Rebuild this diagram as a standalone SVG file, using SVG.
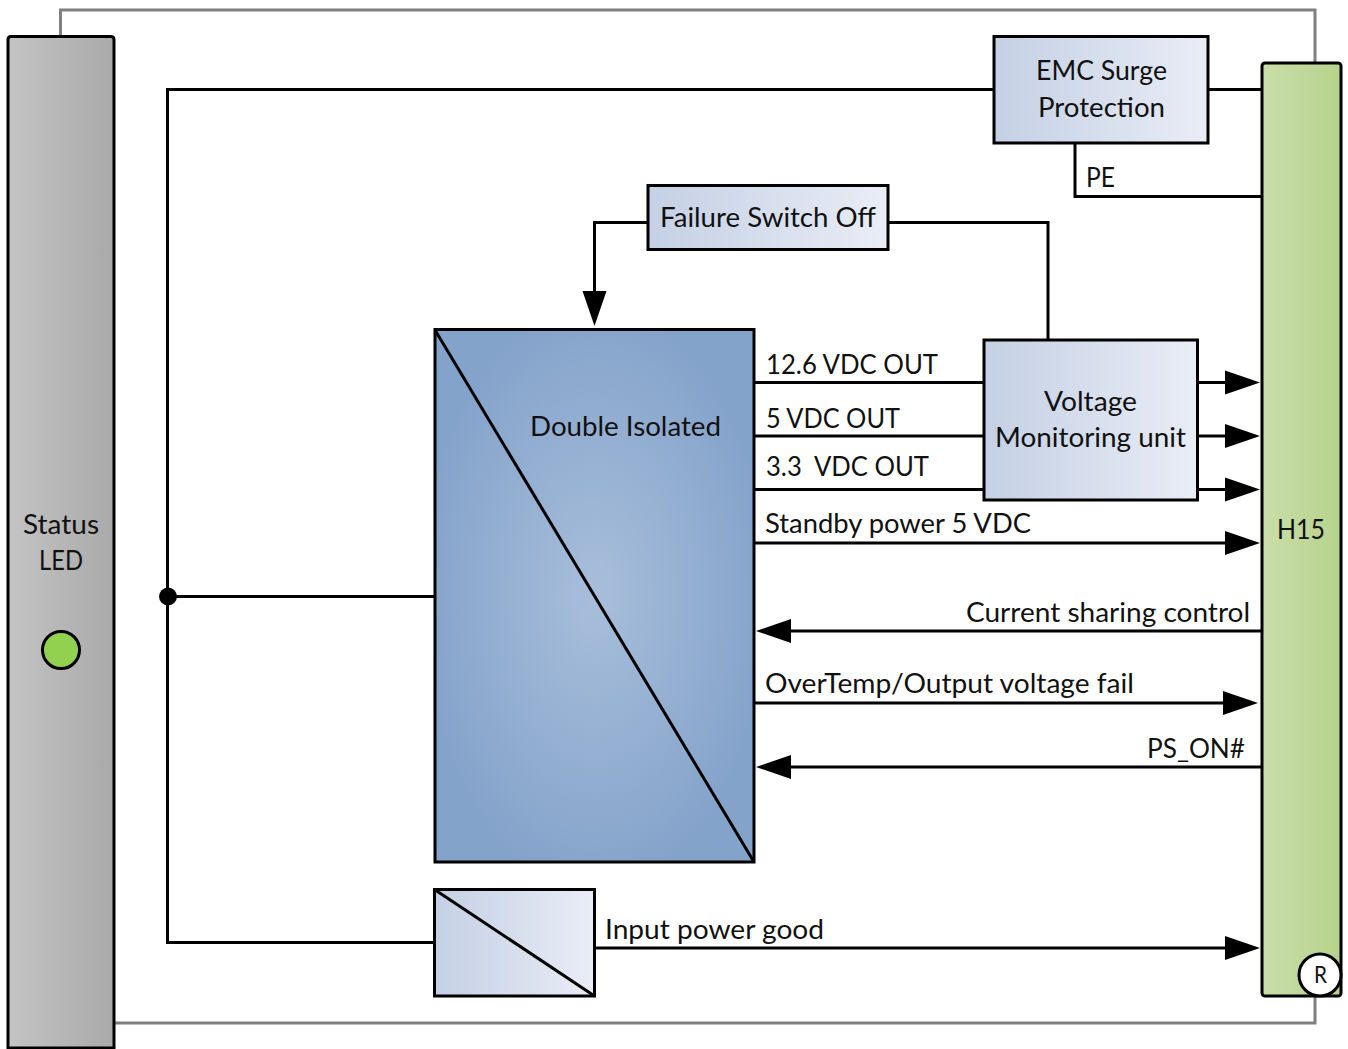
<svg xmlns="http://www.w3.org/2000/svg" width="1348" height="1049" viewBox="0 0 1348 1049">
<style>
text{font-family:"Lato","Liberation Sans",sans-serif;font-size:27px;fill:#111}
.box{stroke:#000;stroke-width:3}
.w{fill:none;stroke:#000;stroke-width:3}
.g{fill:none;stroke:#7f7f7f;stroke-width:3}
</style>
<defs>
<linearGradient id="blue"><stop offset="0" stop-color="#c4d0e4"/><stop offset="1" stop-color="#e9edf6"/></linearGradient>
<linearGradient id="grey"><stop offset="0" stop-color="#c4c4c4"/><stop offset="1" stop-color="#a9a9a9"/></linearGradient>
<linearGradient id="green"><stop offset="0" stop-color="#c9deaa"/><stop offset="1" stop-color="#b7d28c"/></linearGradient>
<radialGradient id="conv" cx="0.5" cy="0.5" r="0.55"><stop offset="0" stop-color="#a8bedb"/><stop offset="1" stop-color="#84a3ca"/></radialGradient>
<marker id="ah" markerUnits="userSpaceOnUse" markerWidth="36" markerHeight="26" refX="25" refY="12.5" orient="auto"><path d="M0,0.5 L35,12.500 L0,24.500 Z" fill="#000"/></marker>
</defs>
<g id="connectors">
<path class="g" d="M60.500,37 V10 H1315 V63"/>
<path class="g" d="M115,1023 H1315 V996"/>
<path class="w" d="M994,89.500 H167.500 V942.500 H434"/>
<path class="w" d="M1208,89.500 H1261"/>
<path class="w" d="M1075,143 V196.500 H1261"/>
<path class="w" d="M648,222.500 H594.500 V316" marker-end="url(#ah)"/>
<path class="w" d="M888,222.500 H1048 V340"/>
<path class="w" d="M168,596.500 H435"/>
<path class="w" d="M754,382.500 H984"/>
<path class="w" d="M754,436 H984"/>
<path class="w" d="M754,489.500 H984"/>
<path class="w" d="M1197,382.500 H1250" marker-end="url(#ah)"/>
<path class="w" d="M1197,436 H1250" marker-end="url(#ah)"/>
<path class="w" d="M1197,489.500 H1250" marker-end="url(#ah)"/>
<path class="w" d="M754,543 H1250" marker-end="url(#ah)"/>
<path class="w" d="M1261,631 H766" marker-end="url(#ah)"/>
<path class="w" d="M754,703 H1248" marker-end="url(#ah)"/>
<path class="w" d="M1261,767 H766" marker-end="url(#ah)"/>
<path class="w" d="M595,948 H1250" marker-end="url(#ah)"/>
<circle cx="168" cy="596.500" r="9" fill="#000"/>
<text x="766" y="374" textLength="172" lengthAdjust="spacingAndGlyphs">12.6 VDC OUT</text>
<text x="766" y="428" textLength="134" lengthAdjust="spacingAndGlyphs">5 VDC OUT</text>
<text x="766" y="476" textLength="163" lengthAdjust="spacingAndGlyphs" xml:space="preserve">3.3  VDC OUT</text>
<text x="765" y="533" textLength="266" lengthAdjust="spacingAndGlyphs">Standby power 5 VDC</text>
<text x="966" y="622" textLength="284" lengthAdjust="spacingAndGlyphs">Current sharing control</text>
<text x="765" y="693" textLength="369" lengthAdjust="spacingAndGlyphs">OverTemp/Output voltage fail</text>
<text x="1147" y="758" textLength="98" lengthAdjust="spacingAndGlyphs">PS_ON#</text>
<text x="605" y="939" textLength="219" lengthAdjust="spacingAndGlyphs">Input power good</text>
<text x="1086" y="187" textLength="29" lengthAdjust="spacingAndGlyphs">PE</text>
</g>
<g id="status-led">
<path class="box" fill="url(#grey)" d="M8,1048 V39.500 Q8,36.500 11,36.500 H111 Q114,36.500 114,39.500 V1048 Z"/>
<text x="23" y="534" textLength="76" lengthAdjust="spacingAndGlyphs">Status</text>
<text x="39" y="570" textLength="44" lengthAdjust="spacingAndGlyphs">LED</text>
<circle cx="61" cy="650" r="18.500" fill="#92d050" stroke="#000" stroke-width="3"/>
</g>
<g id="h15">
<rect class="box" x="1262" y="63" width="79" height="933" rx="3" fill="url(#green)"/>
<text x="1277" y="539" textLength="48" lengthAdjust="spacingAndGlyphs">H15</text>
<circle cx="1320" cy="975" r="21" fill="#fff" stroke="#000" stroke-width="3"/>
<text x="1314" y="983" textLength="13" lengthAdjust="spacingAndGlyphs" style="font-size:23px">R</text>
</g>
<g id="emc">
<rect class="box" x="994" y="36.500" width="214" height="106.500" fill="url(#blue)"/>
<text x="1036" y="80" textLength="131" lengthAdjust="spacingAndGlyphs">EMC Surge</text>
<text x="1038" y="117" textLength="127" lengthAdjust="spacingAndGlyphs">Protection</text>
</g>
<g id="failure">
<rect class="box" x="648" y="185.500" width="240" height="64" fill="url(#blue)"/>
<text x="660" y="227" textLength="216" lengthAdjust="spacingAndGlyphs">Failure Switch Off</text>
</g>
<g id="converter">
<rect class="box" x="435" y="329.500" width="319" height="532.500" fill="url(#conv)"/>
<path class="w" d="M435,330 L754,862"/>
<text x="530" y="436" textLength="191" lengthAdjust="spacingAndGlyphs">Double Isolated</text>
</g>
<g id="voltage">
<rect class="box" x="984" y="340" width="213.500" height="160" fill="url(#blue)"/>
<text x="1044" y="411" textLength="93" lengthAdjust="spacingAndGlyphs">Voltage</text>
<text x="995" y="447" textLength="191" lengthAdjust="spacingAndGlyphs">Monitoring unit</text>
</g>
<g id="input-good">
<rect class="box" x="434.500" y="889.500" width="160" height="106.500" fill="url(#blue)"/>
<path class="w" d="M434.500,889.500 L594.500,996"/>
</g>
</svg>
